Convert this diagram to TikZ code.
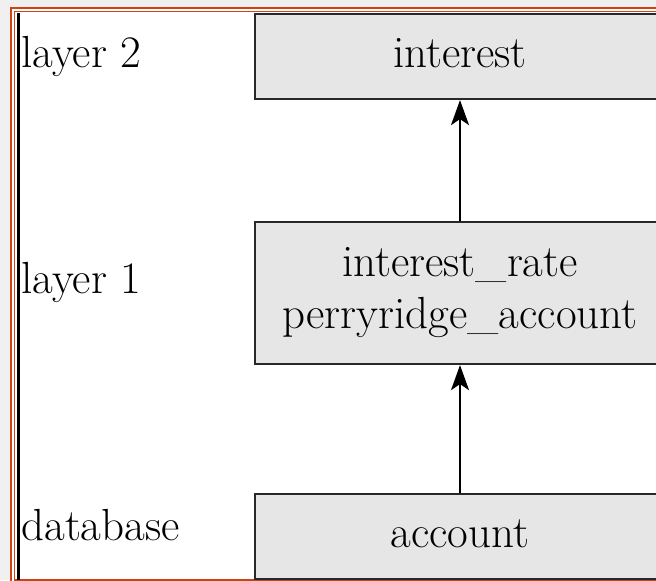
\documentclass[tikz,border=0pt]{standalone}
\usetikzlibrary{arrows.meta}
\definecolor{frameorange}{RGB}{206,66,20}
\definecolor{pagegray}{RGB}{240,240,240}
\definecolor{boxgray}{RGB}{230,230,230}
\definecolor{boxline}{RGB}{40,40,40}
\begin{document}
\begin{tikzpicture}[x=0.5pt,y=-0.5pt,
	every node/.style={font=\fontsize{22.5}{26}\selectfont},
	layerbox/.style={draw=boxline,fill=boxgray,line width=1.1pt,inner sep=0pt,minimum width=205pt,align=center},
	onerow/.style={minimum height=42.5pt,text height=15pt,text depth=4.5pt},
	tag/.style={anchor=base west,inner sep=0pt},
	up/.style={line width=1pt,-{Stealth[length=12.5pt,width=9pt,inset=3pt]}}]
	\useasboundingbox (0,0) rectangle (656,580);
	\clip (0,0) rectangle (656,580);
	\fill[pagegray] (0,0) rectangle (656,580);
	\fill[white] (14,11) rectangle (656,580);
	\draw[frameorange,line width=0.85pt,double=white,double distance=1pt] (12.7,9.5) rectangle (700,581.5);
	\draw[black,line width=1.35pt] (18.7,13) -- (18.7,580);
	\node[layerbox,onerow] (interest) at (460,56.5) {interest};
	\node[layerbox,minimum height=71pt] (views) at (460,293) {interest\_rate\\perryridge\_account};
	\node[layerbox,onerow] (account) at (460,536.5) {account};
	\node[tag] (layertwo) at (21,67) {layer 2};
	\node[tag] (layerone) at (21,293) {layer 1};
	\node[tag] (database) at (21,540) {database};
	\draw[up] (views) -- (interest);
	\draw[up] (account) -- (views);
\end{tikzpicture}
\end{document}
